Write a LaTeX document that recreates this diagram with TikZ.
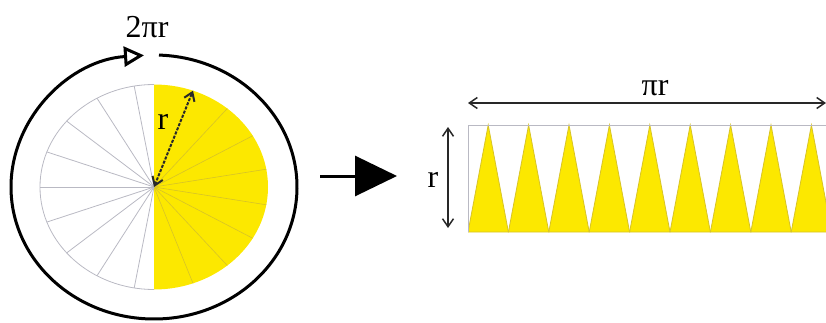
\documentclass[tikz,border=0pt]{standalone}
\usepackage{fontspec}
\setmainfont{Liberation Serif}
\usepackage{tikz}
\usetikzlibrary{arrows.meta,calc}
\definecolor{sectoryellow}{RGB}{252,232,0}
\definecolor{sectorline}{RGB}{215,195,40}
\definecolor{spokegray}{RGB}{185,185,195}
\definecolor{dimgray}{RGB}{40,40,40}

\begin{document}
\begin{tikzpicture}[x=1pt,y=1pt,>={Straight Barb[length=8pt,width=11pt]},font=\fontsize{32}{36}\selectfont]
    \useasboundingbox (0,0) rectangle (826,322);
    \coordinate (O) at (154,135);
    \coordinate (T) at ($(O)+(0,102.5)$);
    \coordinate (R) at ($(O)+(70:114 and 102.5)$);
    
    % Disk: yellow half and white half
    \fill[sectoryellow] (T) arc[start angle=90,end angle=-90,x radius=114,y radius=102.5] -- cycle;
    \foreach \a in {-70,-50,...,70}
        \draw[sectorline,line width=0.6pt] (O) -- ($(O)+(\a:114 and 102.5)$);
    \draw[spokegray,line width=0.8pt] (T) arc[start angle=90,end angle=270,x radius=114,y radius=102.5];
    \foreach \a in {100,120,...,260}
        \draw[spokegray,line width=0.8pt] (O) -- ($(O)+(\a:114 and 102.5)$);
    
    % Radius
    \draw[<->,dimgray,line width=2pt,dash pattern=on 3pt off 1.5pt] (O) -- (R);
    \node (rad) at (163,200) {r};
    
    % Circumference
    \draw[line width=3pt,-{Triangle[open,length=20pt,width=20pt]}] ($(O)+(88:143 and 132)$) arc[start angle=88,end angle=-266,x radius=143,y radius=132];
    \node (circum) at (147,295) {2πr};
    
    % Big arrow
    \coordinate (arrowstart) at (320,146);
    \coordinate (arrowend) at (397,146);
    \draw[line width=3pt,-{Triangle[length=42pt,width=40pt]}] (arrowstart) -- (arrowend);
    
    % Strip of sectors
    \coordinate (SW) at (468,90);
    \coordinate (NW) at (468,197);
    \coordinate (NE) at (826,197);
    \begin{scope}
        \clip (SW) rectangle (826,200);
        \foreach \k in {0,...,8}
            \filldraw[fill=sectoryellow,draw=sectorline,line width=0.8pt] ($(SW)+(40.4*\k,0)$) -- ++(20.2,107) -- ++(20.2,-107) -- cycle;
    \end{scope}
    \draw[spokegray,line width=0.8pt] (SW) -- (NW) -- (NE);
    
    % Dimensions
    \coordinate (htop) at (448,195);
    \coordinate (hbot) at (448,94);
    \draw[<->,dimgray,line width=1.5pt] (htop) -- (hbot);
    \node (height) at (433,142) {r};
    \coordinate (wleft) at (468,219);
    \coordinate (wright) at (826,219);
    \draw[<->,dimgray,line width=1.5pt] (wleft) -- (wright);
    \node (width) at (655,234) {πr};
\end{tikzpicture}
\end{document}
